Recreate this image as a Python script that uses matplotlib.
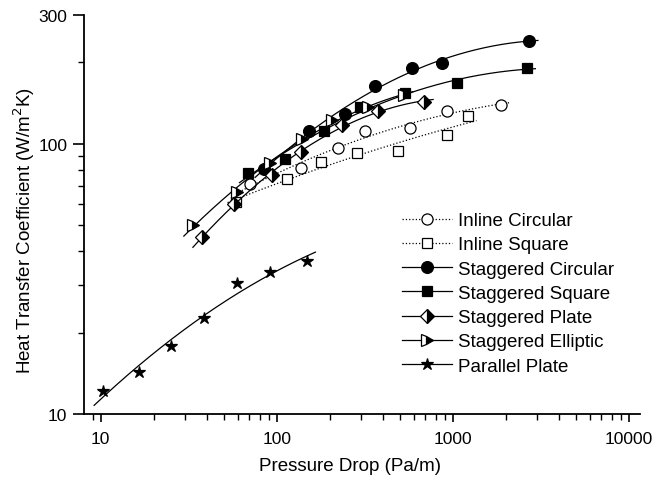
import numpy as np
import matplotlib
matplotlib.use("Agg")
import matplotlib.pyplot as plt
from matplotlib.ticker import FixedLocator, FixedFormatter, NullFormatter

plt.rcParams['font.family'] = ['Liberation Sans', 'DejaVu Sans']

# values (Pa/m, W/m2K)
ic_x = [71, 137, 224, 318, 571, 931, 1875]
ic_y = [71, 81.3, 96.4, 111, 114, 132, 139]

is_x = [59, 114, 179, 287, 491, 925, 1217]
is_y = [61, 73.8, 85.5, 92.7, 94, 108, 127]

sc_x = [84.7, 153, 245, 362, 585, 873, 2720]
sc_y = [80.7, 111, 129, 164, 191, 199, 240]

ss_x = [69, 111, 186, 297, 535, 1057, 2630]
ss_y = [78.2, 87.5, 111, 137, 154, 167, 190]

sp_x = [37.5, 57.4, 93.8, 137, 234, 378, 690]
sp_y = [45.1, 60, 76.4, 93.5, 117, 132, 143]

se_x = [33.3, 59.3, 91.6, 139, 205, 331, 529]
se_y = [50.1, 66.2, 85, 104, 122, 137, 151]

pp_x = [10.3, 16.5, 25, 38.6, 59.3, 92, 148]
pp_y = [12.2, 14.3, 17.8, 22.7, 30.6, 33.6, 36.7]

labels = ["Inline Circular", "Inline Square", "Staggered Circular",
          "Staggered Square", "Staggered Plate", "Staggered Elliptic",
          "Parallel Plate"]


def fit_line(x, y, ext=0.05):
    # quadratic fit in log-log space, like the fitted curves in the figure
    lx = np.log10(x)
    ly = np.log10(y)
    c = np.polyfit(lx, ly, 2)
    xs = np.linspace(lx.min() - ext, lx.max() + ext, 200)
    return 10 ** xs, 10 ** np.polyval(c, xs)


W, H = 661, 481
fig = plt.figure(figsize=(6.61, 4.81), dpi=100)
ax = fig.add_axes([84 / W, 1 - 415 / H, (640 - 84) / W, (415 - 15.7) / H])

series = [
    (ic_x, ic_y, dict(marker='o', mfc='white', ls=':', ms=8)),
    (is_x, is_y, dict(marker='s', mfc='white', ls=':', ms=7.5)),
    (sc_x, sc_y, dict(marker='o', mfc='black', ls='-', ms=8.5)),
    (ss_x, ss_y, dict(marker='s', mfc='black', ls='-', ms=7.5)),
    (sp_x, sp_y, dict(marker='D', mfc='black', fillstyle='right', mfcalt='white', ls='-', ms=7)),
    (se_x, se_y, dict(marker='>', mfc='black', fillstyle='right', mfcalt='white', ls='-', ms=8.5)),
    (pp_x, pp_y, dict(marker='*', mfc='black', ls='-', ms=9)),
]

handles = []
for (x, y, st), lab in zip(series, labels):
    fx, fy = fit_line(x, y)
    ax.plot(fx, fy, color='black', lw=0.9, ls=st['ls'])
    kw = dict(marker=st['marker'], ms=st['ms'], mfc=st['mfc'], mec='black', mew=0.9,
              color='black', ls='none')
    if 'fillstyle' in st:
        kw['fillstyle'] = st['fillstyle']
        kw['markerfacecoloralt'] = st['mfcalt']
    ax.plot(x, y, **kw)
    hkw = dict(kw)
    hkw['ls'] = st['ls']
    hkw['lw'] = 0.9
    h, = ax.plot([], [], **hkw)
    h.set_label(lab)
    handles.append(h)

ax.set_xscale('log')
ax.set_yscale('log')
ax.set_xlim(8.04, 11600)
ax.set_ylim(10, 300)

ax.xaxis.set_major_locator(FixedLocator([10, 100, 1000, 10000]))
ax.xaxis.set_major_formatter(FixedFormatter(['10', '100', '1000', '10000']))
xminor = [m * 10 ** d for d in range(0, 5) for m in range(2, 10)]
ax.xaxis.set_minor_locator(FixedLocator([v for v in xminor if 8 < v < 11600]))
ax.xaxis.set_minor_formatter(NullFormatter())

ax.yaxis.set_major_locator(FixedLocator([10, 100, 300]))
ax.yaxis.set_major_formatter(FixedFormatter(['10', '100', '300']))
ax.yaxis.set_minor_locator(FixedLocator([20, 30, 40, 50, 60, 70, 80, 90, 200]))
ax.yaxis.set_minor_formatter(NullFormatter())

ax.spines['top'].set_visible(False)
ax.spines['right'].set_visible(False)
ax.spines['left'].set_linewidth(1.3)
ax.spines['bottom'].set_linewidth(1.3)
ax.tick_params(axis='x', which='major', direction='out', length=6, width=1.2,
               labelsize=12.5, pad=6)
ax.tick_params(axis='y', which='major', direction='out', length=8, width=1.2,
               labelsize=12.5, pad=4)
ax.tick_params(which='minor', direction='out', length=4, width=1.0)

ax.set_xlabel("Pressure Drop (Pa/m)", fontsize=13.5)
ax.xaxis.set_label_coords((350 - 84) / 556, (415 - 458) / 399.3)
ax.set_ylabel("Heat Transfer Coefficient (W/m$^2$K)", fontsize=13.5)
ax.yaxis.set_label_coords((37 - 84) / 556, (415 - 230) / 399.3)

fig.legend(handles=handles, loc='upper left', bbox_to_anchor=(401.7 / W, 1 - 213 / H),
           frameon=False, fontsize=13.5, handlelength=2.67, handletextpad=0.35,
           labelspacing=0.38, borderpad=0, borderaxespad=0)

fig.savefig("out.png", dpi=100)
